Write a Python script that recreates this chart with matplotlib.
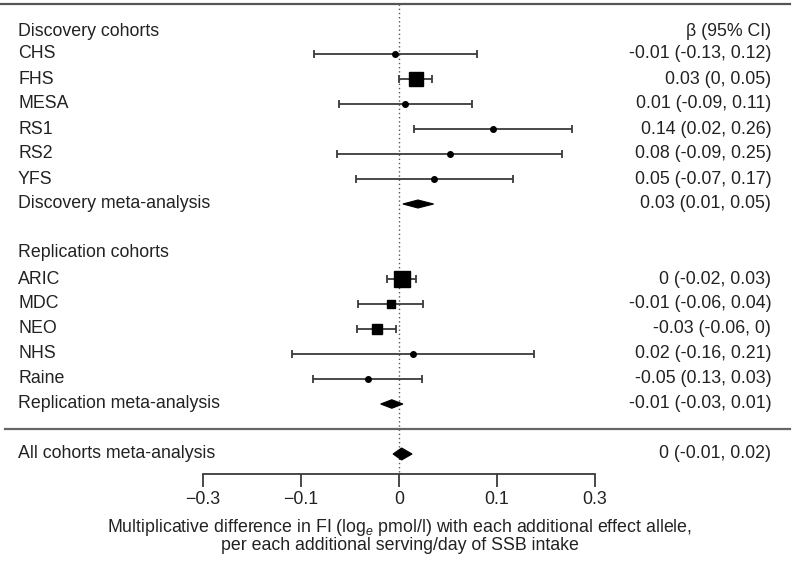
import matplotlib
matplotlib.use("Agg")
import matplotlib.pyplot as plt
from matplotlib.patches import Polygon
import matplotlib.transforms as mtransforms

plt.rcParams['font.family'] = ['Liberation Sans', 'DejaVu Sans']
plt.rcParams['mathtext.fontset'] = 'custom'
plt.rcParams['mathtext.rm'] = 'Liberation Sans'
plt.rcParams['mathtext.it'] = 'Liberation Sans:italic'

# ---- data ----
headers = ["Discovery cohorts", "Replication cohorts"]
header_rows = [0.1, 8.95]

studies = ["CHS", "FHS", "MESA", "RS1", "RS2", "YFS",
           "ARIC", "MDC", "NEO", "NHS", "Raine"]
study_rows = [1, 2, 3, 4, 5, 6, 10, 11, 12, 13, 14]
beta = [-0.006, 0.026, 0.009, 0.144, 0.078, 0.054,
        0.004, -0.012, -0.034, 0.021, -0.047]
ci_low = [-0.13, 0.0, -0.092, 0.023, -0.095, -0.066,
          -0.018, -0.063, -0.064, -0.164, -0.132]
ci_high = [0.12, 0.05, 0.112, 0.265, 0.25, 0.175,
           0.026, 0.037, -0.005, 0.207, 0.035]
study_labels = ["-0.01 (-0.13, 0.12)", "0.03 (0, 0.05)", "0.01 (-0.09, 0.11)",
                "0.14 (0.02, 0.26)", "0.08 (-0.09, 0.25)", "0.05 (-0.07, 0.17)",
                "0 (-0.02, 0.03)", "-0.01 (-0.06, 0.04)", "-0.03 (-0.06, 0)",
                "0.02 (-0.16, 0.21)", "-0.05 (0.13, 0.03)"]

meta_names = ["Discovery meta-analysis", "Replication meta-analysis",
              "All cohorts meta-analysis"]
meta_rows = [7, 15, 17]
meta_est = [0.029, -0.011, 0.004]
meta_low = [0.006, -0.028, -0.009]
meta_high = [0.053, 0.006, 0.02]
meta_labels = ["0.03 (0.01, 0.05)", "-0.01 (-0.03, 0.01)", "0 (-0.01, 0.02)"]

tick_pos = [-0.3, -0.15, 0, 0.15, 0.3]
tick_labels = ["\u22120.3", "\u22120.1", "0", "0.1", "0.3"]

# ---- style ----
marker_sizes = [4, 10, 4, 4, 4, 4, 11, 5.5, 7.5, 4, 4]
marker_styles = ['o', 's', 'o', 'o', 'o', 'o', 's', 's', 's', 'o', 'o']
line_col = '#3a3a3a'
text_col = '#222222'
fs = 12.8

fig = plt.figure(figsize=(8.0, 5.66), dpi=100)
ax = fig.add_axes([0, 92 / 566, 1, 474 / 566])
ax.set_xlim(-399 / 653, 401 / 653)
ax.set_ylim(17.8, -1.16)

trans = mtransforms.blended_transform_factory(ax.transAxes, ax.transData)

for s in ['top', 'right', 'left']:
    ax.spines[s].set_visible(False)
ax.spines['bottom'].set_bounds(tick_pos[0], tick_pos[-1])
ax.spines['bottom'].set_color(line_col)
ax.spines['bottom'].set_linewidth(1.3)
ax.set_yticks([])
ax.set_xticks(tick_pos)
ax.set_xticklabels(tick_labels, fontsize=fs, color=text_col)
ax.tick_params(axis='x', length=9, width=1.3, color=line_col, pad=3)

# horizontal separators
ax.plot([0.0, 0.988], [-1, -1], transform=trans, color='#555555', lw=1.6, clip_on=False)
ax.plot([0.006, 0.988], [16, 16], transform=trans, color='#666666', lw=1.6, clip_on=False)

# zero dotted line
ax.plot([0, 0], [-1, 17.8], color='#555555', lw=1.0, ls=(0, (1, 2)), zorder=1)

# headers
for h, r in zip(headers, header_rows):
    ax.text(0.0225, r, h, transform=trans, fontsize=fs, color=text_col, va='center', ha='left')
ax.text(0.964, 0.1, "\u03b2 (95% CI)", transform=trans, fontsize=fs, color=text_col,
        va='center', ha='right')

# studies
for name, r, b, lo, hi, lab, ms, mk in zip(studies, study_rows, beta, ci_low, ci_high,
                                           study_labels, marker_sizes, marker_styles):
    ax.errorbar([b], [r], xerr=[[b - lo], [hi - b]], fmt='none', ecolor=line_col,
                elinewidth=1.3, capsize=3.2, capthick=1.3, zorder=2)
    ax.plot([b], [r], marker=mk, ms=ms, color='black', zorder=3, ls='none')
    ax.text(0.0225, r, name, transform=trans, fontsize=fs, color=text_col, va='center', ha='left')
    ax.text(0.964, r, lab, transform=trans, fontsize=fs, color=text_col, va='center', ha='right')

# meta-analysis diamonds
half_h = [0.16, 0.17, 0.24]
for name, r, e, lo, hi, lab, hh in zip(meta_names, meta_rows, meta_est, meta_low, meta_high,
                                       meta_labels, half_h):
    ax.add_patch(Polygon([[lo, r], [e, r - hh], [hi, r], [e, r + hh]], closed=True,
                         facecolor='black', edgecolor='black', lw=0.8, zorder=3))
    ax.text(0.0225, r, name, transform=trans, fontsize=fs, color=text_col, va='center', ha='left')
    ax.text(0.964, r, lab, transform=trans, fontsize=fs, color=text_col, va='center', ha='right')

# x label
fig.text(0.5, 39 / 566, "Multiplicative difference in FI (log$_{e}$ pmol/l) with each additional effect allele,",
         ha='center', va='center', fontsize=fs, color=text_col)
fig.text(0.5, 21 / 566, "per each additional serving/day of SSB intake",
         ha='center', va='center', fontsize=fs, color=text_col)

fig.savefig("out.png", dpi=100)
